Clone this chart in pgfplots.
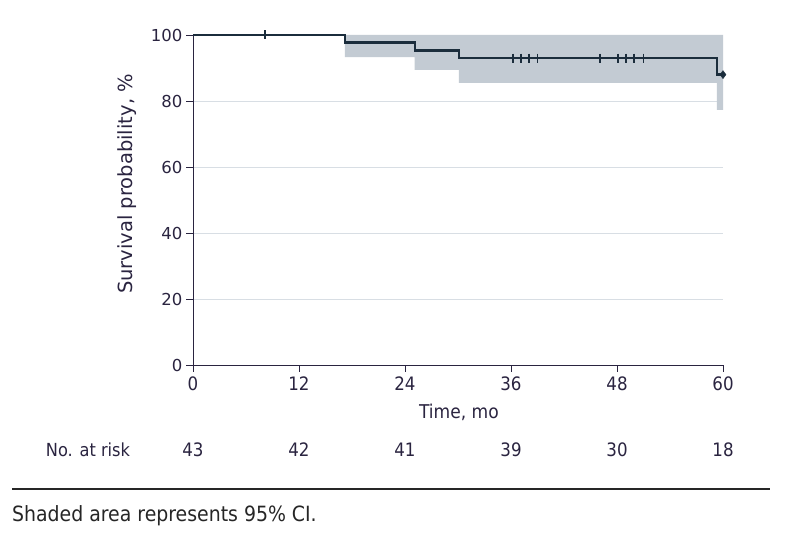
\documentclass[border=0pt]{standalone}
\usepackage{pgfplots}
\pgfplotsset{compat=1.18}
\usepackage{fontspec}
\setmainfont{DejaVu Sans Condensed}
\newfontfamily\wide{DejaVu Sans}
\definecolor{txt}{HTML}{2A2440}
\definecolor{km}{HTML}{1B2D3C}
\definecolor{cifill}{HTML}{C3CBD3}
\definecolor{gridc}{HTML}{D8DEE4}
\begin{document}
\begin{tikzpicture}
\useasboundingbox (0,0) rectangle (794bp,536bp);
\begin{axis}[
  at={(193bp,171bp)}, anchor=origin,
  scale only axis, width=530bp, height=330bp,
  xmin=0, xmax=60, ymin=0, ymax=100,
  axis x line*=bottom, axis y line*=left,
  axis line style={txt, line width=0.9pt, -},
  xtick={0,12,24,36,48,60}, ytick={0,20,40,60,80,100},
  tick align=outside, major tick length=7bp,
  tick style={txt, line width=0.9pt},
  xmajorgrids=false, ymajorgrids=true,
  major grid style={draw=gridc, line width=0.9pt},
  /pgf/number format/assume math mode=true,
  x tick label style={font=\fontsize{18.5bp}{20bp}\selectfont, text=txt, yshift=-1bp},
  y tick label style={font=\wide\fontsize{16.5bp}{20bp}\selectfont, text=txt},
  clip=false,
]
\addplot[fill=cifill, draw=none] coordinates {
 (17.2,100) (60,100) (60,77.3) (59.3,77.3) (59.3,85.5) (30.1,85.5) (30.1,89.4)
 (25.1,89.4) (25.1,93.3) (17.2,93.3)} -- cycle;
\addplot[draw=km, line width=2.4pt, const plot, mark=none] coordinates {
 (0,100) (17.2,100) (17.2,97.67) (25.1,97.67) (25.1,95.35) (30.1,95.35)
 (30.1,93.0) (59.3,93.0) (59.3,88.0) (60,88.0)};
\addplot[only marks, mark=|, mark size=4.5bp, mark options={km, line width=1.8pt}] coordinates {
 (8.15,100) (36.2,93.0) (37.1,93.0) (38.0,93.0) (39.0,93.0)
 (46.1,93.0) (48.1,93.0) (49.0,93.0) (49.9,93.0) (51.0,93.0)};
\addplot[only marks, mark=diamond*, mark size=4bp, mark options={km, fill=km}] coordinates {(60,88.0)};
\end{axis}
\node[text=txt, rotate=90, font=\wide\fontsize{19.5bp}{22bp}\selectfont] at (127bp,352bp) {Survival probability, \%};
\node[text=txt, font=\fontsize{19bp}{20bp}\selectfont] at (459bp,124bp) {Time, mo};
\node[text=txt, font=\fontsize{18bp}{20bp}\selectfont] at (88bp,86bp) {No. at risk};
\foreach \x/\n in {193/43, 299/42, 405/41, 511/39, 617/30, 723/18}
  \node[text=txt, font=\fontsize{18.5bp}{20bp}\selectfont] at (\x bp,86bp) {\n};
\draw[line width=1.6pt, black!85] (12bp,47bp) -- (770bp,47bp);
\node[anchor=west, inner sep=0pt, text=black!85, font=\fontsize{21bp}{24bp}\selectfont] at (12bp,20bp) {Shaded area represents 95\% CI.};
\end{tikzpicture}
\end{document}
